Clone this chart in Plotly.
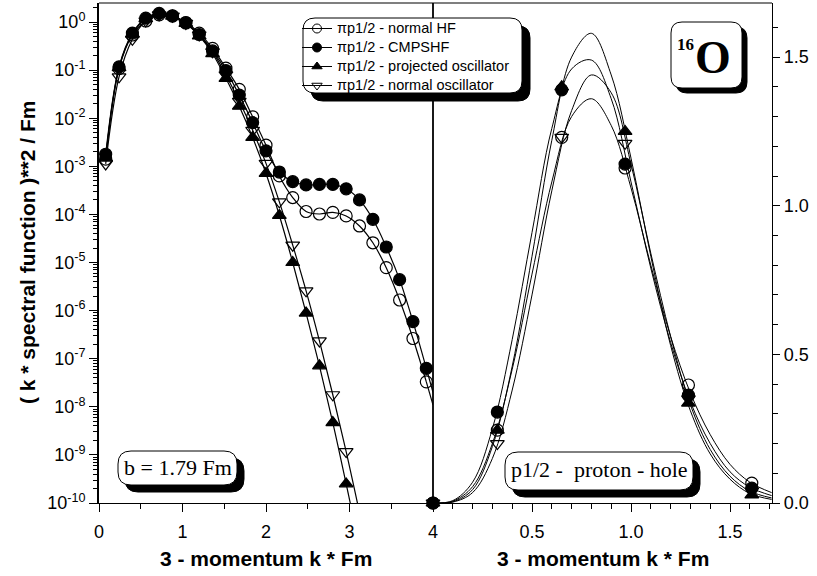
import plotly.graph_objects as go

# ---------------- data ----------------
k_left = [0.08, 0.24, 0.40, 0.56, 0.72, 0.88, 1.04, 1.20, 1.36, 1.52, 1.68, 1.84,
          2.00, 2.16, 2.32, 2.48, 2.64, 2.80, 2.96, 3.12, 3.28, 3.44, 3.60, 3.76, 3.92]

hf_left = [1.41e-3, 0.107, 0.537, 1.05, 1.41, 1.32, 0.977, 0.589, 0.282, 0.110, 0.0398, 0.0107,
           2.75e-3, 6.3e-4, 2.24e-4, 1.15e-4, 1.02e-4, 1.10e-4, 9.3e-5, 5.75e-5, 2.57e-5, 7.8e-6,
           1.66e-6, 2.63e-7, 3.3e-8]
cm_left = [1.78e-3, 0.117, 0.589, 1.20, 1.51, 1.35, 0.955, 0.550, 0.251, 0.0977, 0.0302, 8.1e-3,
           2.1e-3, 7.6e-4, 4.8e-4, 4.1e-4, 4.2e-4, 4.2e-4, 3.4e-4, 2.0e-4, 7.9e-5, 2.1e-5,
           4.4e-6, 5.9e-7, 6.3e-8]
k_left_osc = [0.08, 0.24, 0.40, 0.56, 0.72, 0.88, 1.04, 1.20, 1.36, 1.52, 1.68, 1.84,
              2.00, 2.16, 2.32, 2.48, 2.64, 2.80, 2.96]
po_left = [1.5e-3, 0.112, 0.562, 1.17, 1.48, 1.32, 0.933, 0.513, 0.219, 0.0676, 0.0178, 3.98e-3,
           7.1e-4, 9.5e-5, 1.0e-5, 8.9e-7, 7.1e-8, 4.7e-9, 2.5e-10]
k_left_no = [0.08, 0.24, 0.40, 0.56, 0.72, 0.88, 1.04, 1.20, 1.36, 1.52, 1.68, 1.84,
             2.00, 2.16, 2.32, 2.48, 2.64, 2.80, 2.96, 3.12]
no_left = [1.12e-3, 0.0724, 0.437, 1.05, 1.41, 1.32, 0.933, 0.537, 0.240, 0.0794, 0.0224, 5.6e-3,
           1.15e-3, 1.82e-4, 2.29e-5, 2.57e-6, 2.34e-7, 1.78e-8, 1.17e-9, 6.3e-11]

# curve tails beyond the last marker
hf_tail_k, hf_tail = [3.92, 4.0], [3.3e-8, 1.1e-8]
cm_tail_k, cm_tail = [3.92, 4.0], [6.3e-8, 2.0e-8]
po_tail_k, po_tail = [2.96, 3.12], [2.5e-10, 1.26e-11]

# right panel: curves
k_right = [0.0, 0.1, 0.2, 0.3, 0.4, 0.5, 0.6, 0.7, 0.8, 0.9, 1.0, 1.1, 1.2, 1.3, 1.4, 1.5, 1.6, 1.71]
hf_right = [0, 0.006, 0.055, 0.20, 0.45, 0.77, 1.08, 1.30, 1.36, 1.27, 1.06, 0.80, 0.56, 0.37, 0.23, 0.13, 0.07, 0.035]
cm_right = [0, 0.008, 0.07, 0.25, 0.55, 0.91, 1.26, 1.46, 1.49, 1.36, 1.08, 0.79, 0.54, 0.34, 0.20, 0.105, 0.053, 0.025]
po_right = [0, 0.004, 0.045, 0.19, 0.46, 0.83, 1.22, 1.50, 1.58, 1.44, 1.16, 0.83, 0.53, 0.31, 0.165, 0.08, 0.032, 0.012]
no_right = [0, 0.003, 0.035, 0.15, 0.38, 0.70, 1.05, 1.32, 1.44, 1.38, 1.14, 0.84, 0.56, 0.33, 0.18, 0.09, 0.04, 0.017]

# right panel: markers
k_right_m = [0.0, 0.325, 0.65, 0.97, 1.29, 1.61]
hf_right_m = [0, 0.245, 1.23, 1.127, 0.397, 0.067]
cm_right_m = [0, 0.306, 1.39, 1.14, 0.363, 0.05]
po_right_m = [0, 0.245, 1.40, 1.25, 0.336, 0.027]
no_right_m = [0, 0.20, 1.23, 1.21, 0.35, 0.04]

series_names = ["πp1/2 - normal HF", "πp1/2 - CMPSHF",
                "πp1/2 - projected oscillator", "πp1/2 - normal oscillator"]
symbols = ["circle-open", "circle", "triangle-up", "triangle-down-open"]

log_tickvals = [1, 1e-1, 1e-2, 1e-3, 1e-4, 1e-5, 1e-6, 1e-7, 1e-8, 1e-9, 1e-10]
log_ticktext = ["10<sup>%d</sup>" % e for e in [0, -1, -2, -3, -4, -5, -6, -7, -8, -9, -10]]

# ---------------- layout geometry ----------------
W, H = 817, 576
L, R, T, B = 99, 772, 3, 503          # plot area in px
XDIV = 433                             # divider between panels
PW, PH = R - L, B - T


def X(px):
    return (px - L) / PW


def Y(py):
    return (B - py) / PH


FONT = "Liberation Sans, Arial, Helvetica, sans-serif"
SERIF = "Liberation Serif, Times New Roman, serif"

fig = go.Figure()

LW = 1.2
MS = 12


def add_left(k, v, sym, tail_k=None, tail_v=None):
    fig.add_trace(go.Scatter(x=k, y=v, mode="lines", line=dict(color="black", width=LW, shape="spline"),
                             xaxis="x", yaxis="y", showlegend=False, hoverinfo="skip"))
    if tail_k:
        fig.add_trace(go.Scatter(x=tail_k, y=tail_v, mode="lines", line=dict(color="black", width=LW),
                                 xaxis="x", yaxis="y", showlegend=False, hoverinfo="skip"))
    fig.add_trace(go.Scatter(x=k, y=v, mode="markers", cliponaxis=False,
                             marker=dict(symbol=sym, size=MS, color="black",
                                         line=dict(color="black", width=1.2)),
                             xaxis="x", yaxis="y", showlegend=False))


add_left(k_left, hf_left, symbols[0], hf_tail_k, hf_tail)
add_left(k_left, cm_left, symbols[1], cm_tail_k, cm_tail)
add_left(k_left_osc, po_left, symbols[2], po_tail_k, po_tail)
add_left(k_left_no, no_left, symbols[3])

for curve in [hf_right, cm_right, po_right, no_right]:
    fig.add_trace(go.Scatter(x=k_right, y=curve, mode="lines",
                             line=dict(color="black", width=1.0, shape="spline"),
                             xaxis="x2", yaxis="y2", showlegend=False, hoverinfo="skip"))
for vals, sym in zip([hf_right_m, cm_right_m, po_right_m, no_right_m], symbols):
    fig.add_trace(go.Scatter(x=k_right_m, y=vals, mode="markers", cliponaxis=False,
                             marker=dict(symbol=sym, size=MS, color="black",
                                         line=dict(color="black", width=1.2)),
                             xaxis="x2", yaxis="y2", showlegend=False))

# legend entries
for name, sym in zip(series_names, symbols):
    fig.add_trace(go.Scatter(x=[None], y=[None], mode="lines+markers",
                             name='<span style="font-size:14.5px">%s</span>' % name,
                             line=dict(color="black", width=1),
                             marker=dict(symbol=sym, size=9, color="black",
                                         line=dict(color="black", width=1)),
                             xaxis="x", yaxis="y"))


def rbox(x0, y0, x1, y1, r):
    rx, ry = r / PW, r / PH
    a, b, c, d = X(x0), X(x1), Y(y0), Y(y1)   # c top, d bottom (paper)
    return (f"M {a+rx},{c} L {b-rx},{c} Q {b},{c} {b},{c-ry} L {b},{d+ry} Q {b},{d} {b-rx},{d} "
            f"L {a+rx},{d} Q {a},{d} {a},{d+ry} L {a},{c-ry} Q {a},{c} {a+rx},{c} Z")


shapes = []
# frame: top line and divider
shapes.append(dict(type="line", xref="paper", yref="paper", x0=0, x1=1, y0=1, y1=1,
                   line=dict(color="black", width=1.2)))
shapes.append(dict(type="line", xref="paper", yref="paper", x0=X(XDIV), x1=X(XDIV), y0=0, y1=1,
                   line=dict(color="black", width=1.8)))


def boxed(x0, y0, x1, y1, r, off=7):
    shapes.append(dict(type="path", xref="paper", yref="paper",
                       path=rbox(x0 + off, y0 + off, x1 + off, y1 + off, r),
                       fillcolor="black", line=dict(color="black", width=1)))
    shapes.append(dict(type="path", xref="paper", yref="paper", path=rbox(x0, y0, x1, y1, r),
                       fillcolor="white", line=dict(color="black", width=1)))


boxed(303, 18, 522, 93, 12, 8)     # legend box
boxed(671, 22, 742, 88, 11, 5)     # 16O box
boxed(118, 451, 237, 485, 13, 7)   # b = 1.79 Fm
boxed(505, 452, 693, 490, 13, 7)   # p1/2 proton hole


def ann(text, px, py, font, angle=0):
    return dict(text=text, xref="paper", yref="paper", x=X(px), y=Y(py), xanchor="center",
                yanchor="middle", textangle=angle, showarrow=False, font=font)


bold20 = dict(family=FONT, size=21, color="black", weight="bold")
annotations = [
    ann("( k * spectral function )**2 / Fm", 27, 253,
        dict(family=FONT, size=21, color="black", weight="bold"), -90),
    ann("3 - momentum k * Fm", 266, 558, bold20),
    ann("3 - momentum k * Fm", 603, 558, bold20),
    ann("b = 1.79 Fm", 177.5, 468, dict(family=SERIF, size=22, color="black")),
    ann("p1/2 -  proton - hole", 599, 470, dict(family=SERIF, size=22, color="black")),
    ann("16", 685, 45, dict(family=SERIF, size=17, color="black", weight="bold")),
    ann("O", 713, 58, dict(family=SERIF, size=46, color="black", weight="bold")),
]

tickfont = dict(family=FONT, size=18, color="black")

fig.update_layout(
    width=W, height=H, margin=dict(l=L, r=W - R, t=T, b=H - B, autoexpand=False),
    paper_bgcolor="white", plot_bgcolor="white",
    showlegend=True,
    legend=dict(x=X(297), y=Y(14), xanchor="left", yanchor="top", bgcolor="rgba(0,0,0,0)",
                borderwidth=0, tracegroupgap=0, itemwidth=30,
                font=dict(family="Liberation Sans, Arial", size=12, color="black")),
    xaxis=dict(domain=[0, X(XDIV)], range=[0, 4], tickmode="array", tickvals=[0, 1, 2, 3, 4],
               ticks="outside", ticklen=8, tickwidth=1, tickcolor="black",
               minor=dict(dtick=0.5, tick0=0, ticks="outside", ticklen=5, tickcolor="black"),
               showline=True, linecolor="black", linewidth=1.2, showgrid=False, zeroline=False,
               tickfont=tickfont, anchor="y", ticklabelstandoff=4),
    yaxis=dict(type="log", range=[-10, 0.395], tickmode="array", tickvals=log_tickvals,
               ticktext=log_ticktext, ticks="outside", ticklen=8, tickcolor="black",
               minor=dict(dtick="D1", ticks="outside", ticklen=4, tickcolor="black"),
               showline=True, linecolor="black", linewidth=2, showgrid=False, zeroline=False,
               tickfont=tickfont, anchor="x"),
    xaxis2=dict(domain=[X(XDIV), 1], range=[0, 1.712], tickmode="array", tickvals=[0.5, 1.0, 1.5],
                ticktext=["0.5", "1.0", "1.5"],
                ticks="outside", ticklen=8, tickcolor="black",
                minor=dict(dtick=0.1, tick0=0, ticks="outside", ticklen=5, tickcolor="black"),
                showline=True, linecolor="black", linewidth=1.2, showgrid=False, zeroline=False,
                tickfont=tickfont, anchor="y2", ticklabelstandoff=4),
    yaxis2=dict(range=[0, 1.682], dtick=0.5, tickformat=".1f", side="right",
                ticks="outside", ticklen=7, tickcolor="black",
                minor=dict(dtick=0.1, ticks="outside", ticklen=5, tickcolor="black"),
                showline=True, linecolor="black", linewidth=1.2, showgrid=False, zeroline=False,
                tickfont=tickfont, anchor="x2"),
    shapes=shapes,
    annotations=annotations,
)

fig.write_html("out.html")
